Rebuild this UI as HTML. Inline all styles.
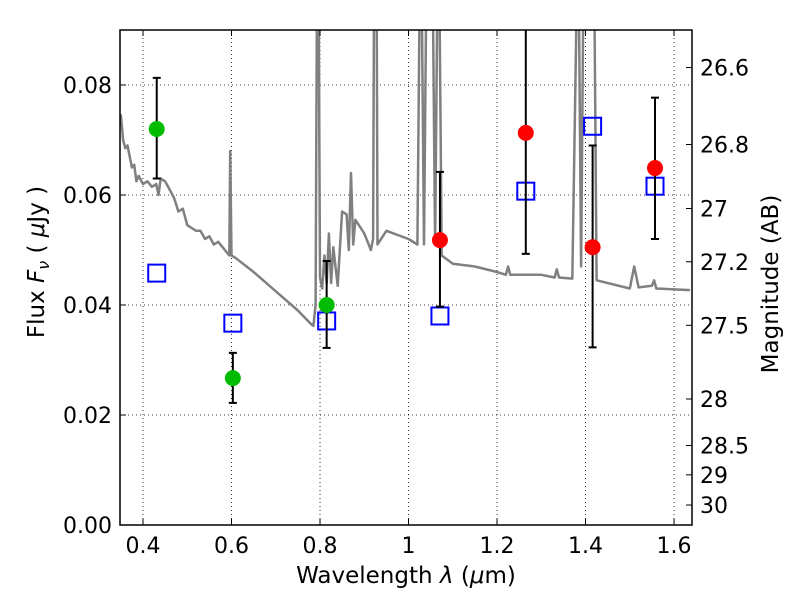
<!DOCTYPE html>
<html><head><meta charset="utf-8"><style>
body{margin:0;background:#fff;}
svg{font-family:"DejaVu Sans","Liberation Sans",sans-serif;}
</style></head><body>
<svg id="c" width="800" height="600"></svg>
<script>
const specX=[0.345,0.350,0.355,0.36,0.365,0.37,0.375,0.38,0.385,0.39,0.40,0.41,0.42,0.43,0.435,0.44,0.45,0.46,0.47,0.48,0.49,0.50,0.51,0.52,0.53,0.54,0.55,0.56,0.57,0.58,0.59,0.595,0.597,0.600,0.61,0.65,0.70,0.75,0.78,0.785,0.79,0.793,0.797,0.80,0.805,0.81,0.815,0.82,0.825,0.83,0.84,0.85,0.86,0.865,0.87,0.875,0.88,0.90,0.915,0.92,0.922,0.928,0.93,0.95,1.00,1.02,1.025,1.03,1.035,1.04,1.055,1.06,1.065,1.07,1.075,1.10,1.15,1.20,1.22,1.225,1.23,1.30,1.33,1.335,1.34,1.37,1.38,1.385,1.39,1.395,1.42,1.425,1.50,1.51,1.52,1.55,1.555,1.56,1.636];
const specY=[0.072,0.0745,0.070,0.0685,0.069,0.067,0.065,0.0655,0.0625,0.0635,0.062,0.0625,0.0615,0.062,0.060,0.063,0.0625,0.061,0.0595,0.057,0.0575,0.0545,0.054,0.0535,0.0535,0.052,0.0525,0.051,0.0515,0.0505,0.0495,0.049,0.068,0.049,0.0485,0.046,0.0425,0.039,0.0365,0.0362,0.040,0.095,0.095,0.045,0.043,0.049,0.044,0.053,0.044,0.0505,0.0435,0.057,0.0565,0.05,0.064,0.051,0.0555,0.053,0.050,0.052,0.095,0.095,0.051,0.0535,0.052,0.051,0.095,0.095,0.051,0.095,0.095,0.051,0.095,0.095,0.049,0.0475,0.047,0.046,0.0455,0.047,0.0455,0.0455,0.045,0.0465,0.045,0.0448,0.095,0.095,0.047,0.095,0.095,0.0445,0.043,0.047,0.0432,0.0435,0.0445,0.043,0.0427];
const greenX=[0.431,0.603,0.815];
const greenY=[0.072,0.0267,0.040];
const greenLo=[0.063,0.0222,0.0322];
const greenHi=[0.0813,0.0313,0.048];
const redX=[1.071,1.265,1.416,1.557];
const redY=[0.0518,0.0713,0.0505,0.0649];
const redLo=[0.0397,0.0493,0.0323,0.052];
const redHi=[0.0642,0.095,0.069,0.0777];
const modelX=[0.431,0.603,0.815,1.071,1.265,1.416,1.557];
const modelY=[0.0458,0.0367,0.0371,0.038,0.0607,0.0725,0.0616];
const xTicks=[0.4,0.6,0.8,1.0,1.2,1.4,1.6];
const xTickLabels=["0.4","0.6","0.8","1","1.2","1.4","1.6"];
const yTicks=[0,0.02,0.04,0.06,0.08];
const yTickLabels=["0.00","0.02","0.04","0.06","0.08"];
const magTicks=[26.6,26.8,27,27.2,27.5,28,28.5,29,30];
const magLabels=["26.6","26.8","27","27.2","27.5","28","28.5","29","30"];

const L=120,R=692,T=30,B=525,x0=0.348,x1=1.6406,y0=0,y1=0.09;
const sx=v=>L+(v-x0)/(x1-x0)*(R-L);
const sy=v=>B-(v-y0)/(y1-y0)*(B-T);
const svg=document.getElementById('c');
const NS='http://www.w3.org/2000/svg';
function mk(tag,attrs,parent){const e=document.createElementNS(NS,tag);for(const k in attrs)e.setAttribute(k,attrs[k]);(parent||svg).appendChild(e);return e;}

const defs=mk('defs',{});
const cp=mk('clipPath',{id:'clip'},defs);
mk('rect',{x:L,y:T,width:R-L,height:B-T},cp);

const grid=mk('g',{});


xTicks.forEach(t=>mk('line',{x1:sx(t),x2:sx(t),y1:T,y2:B,stroke:'#000','stroke-width':0.8,'stroke-dasharray':'1,3'},grid));
yTicks.forEach(t=>mk('line',{x1:L,x2:R,y1:sy(t),y2:sy(t),stroke:'#000','stroke-width':0.8,'stroke-dasharray':'1,3'},grid));

const plot=mk('g',{'clip-path':'url(#clip)'});
let d='';specX.forEach((v,i)=>{d+=(i?'L':'M')+sx(v).toFixed(1)+','+sy(specY[i]).toFixed(1);});
const sp=mk('path',{d:d,fill:'none',stroke:'#808080','stroke-width':2.5,'stroke-linejoin':'round'},plot);



function errbar(x,lo,hi,name){
  const g=mk('g',{stroke:'#000','stroke-width':2},plot);
  
  
  mk('line',{x1:sx(x),x2:sx(x),y1:sy(lo),y2:sy(hi)},g);
  mk('line',{x1:sx(x)-4,x2:sx(x)+4,y1:sy(lo),y2:sy(lo)},g);
  mk('line',{x1:sx(x)-4,x2:sx(x)+4,y1:sy(hi),y2:sy(hi)},g);
}
modelX.forEach((v,i)=>{
  const r=mk('rect',{x:sx(v)-8.5,y:sy(modelY[i])-8.5,width:17,height:17,fill:'none',stroke:'#0000ff','stroke-width':2},plot);
  
  
});
greenX.forEach((v,i)=>{
  errbar(v,greenLo[i],greenHi[i],'green-error-bar');
  const c=mk('circle',{cx:sx(v),cy:sy(greenY[i]),r:8,fill:'#00bb00'},plot);
  
  
});
redX.forEach((v,i)=>{
  errbar(v,redLo[i],redHi[i],'red-error-bar');
  const c=mk('circle',{cx:sx(v),cy:sy(redY[i]),r:8,fill:'#ff0000'},plot);
  
  
});

const fr=mk('rect',{x:L,y:T,width:R-L,height:B-T,fill:'none',stroke:'#000','stroke-width':1.5});



xTicks.forEach((t,i)=>{
  mk('line',{x1:sx(t),x2:sx(t),y1:B,y2:B-6,stroke:'#000'});
  mk('line',{x1:sx(t),x2:sx(t),y1:T,y2:T+6,stroke:'#000'});
  const tx=mk('text',{x:sx(t),y:B+28,'text-anchor':'middle','font-size':22});
  tx.textContent=xTickLabels[i];
  
  
});
yTicks.forEach((t,i)=>{
  mk('line',{x1:L,x2:L+6,y1:sy(t),y2:sy(t),stroke:'#000'});
  const tx=mk('text',{x:L-8,y:sy(t)+8,'text-anchor':'end','font-size':22});
  tx.textContent=yTickLabels[i];
  
  
});
magTicks.forEach((m,i)=>{
  const f=Math.pow(10,(23.9-m)/2.5);
  const y=sy(f);
  mk('line',{x1:R,x2:R-6,y1:y,y2:y,stroke:'#000'});
  const tx=mk('text',{x:R+8,y:y+8,'text-anchor':'start','font-size':22});
  tx.textContent=magLabels[i];
  
  
});

const xt=mk('text',{x:406,y:583,'text-anchor':'middle','font-size':23});
xt.innerHTML='Wavelength  <tspan font-style="italic">λ</tspan> (<tspan font-style="italic">μ</tspan>m)';


const yt=mk('text',{x:0,y:0,'text-anchor':'middle','font-size':23,transform:'translate(44,262) rotate(-90)'});
yt.innerHTML='Flux  <tspan font-style="italic">F</tspan><tspan font-style="italic" font-size="16" dy="5">ν</tspan><tspan dy="-5">  (  </tspan><tspan font-style="italic">μ</tspan>Jy )';


const rt=mk('text',{x:0,y:0,'text-anchor':'middle','font-size':23,transform:'translate(778,284) rotate(-90)'});
rt.textContent='Magnitude (AB)';


</script>
</body></html>
